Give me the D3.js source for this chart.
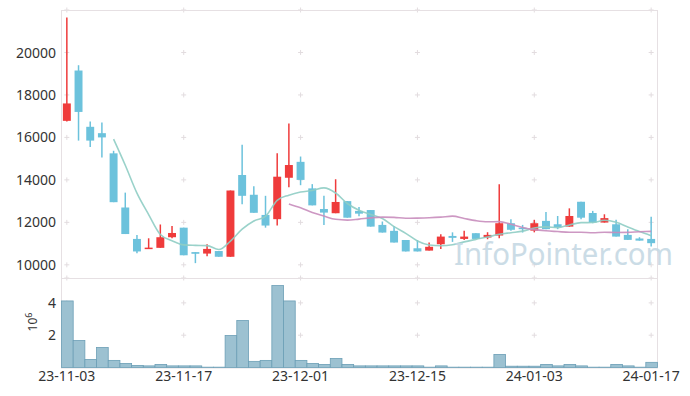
<!DOCTYPE html>
<html lang="ko">
<head>
<meta charset="utf-8">
<style type="text/css">
    body { margin: 0; background: #fff; }
    svg { display: block; font-family: "Noto Sans", sans-serif; }
    .frame { fill: none; stroke: #e6e0e3; stroke-width: 1px; }
    .cross { stroke: #e2dcdf; stroke-width: 1px; }
    .tick-label { fill: #333; font-size: 14px; }
</style>
</head>
<body>
<svg width="690" height="396"></svg>
<script src="https://d3js.org/d3.v7.min.js"></script>
<script type="text/javascript">
    // trading days
    var dates = ["23-11-03","23-11-06","23-11-07","23-11-08","23-11-09","23-11-10",
        "23-11-13","23-11-14","23-11-15","23-11-16","23-11-17",
        "23-11-20","23-11-21","23-11-22","23-11-23","23-11-24",
        "23-11-27","23-11-28","23-11-29","23-11-30","23-12-01",
        "23-12-04","23-12-05","23-12-06","23-12-07","23-12-08",
        "23-12-11","23-12-12","23-12-13","23-12-14","23-12-15",
        "23-12-18","23-12-19","23-12-20","23-12-21","23-12-22",
        "23-12-26","23-12-27","23-12-28","24-01-02","24-01-03",
        "24-01-04","24-01-05","24-01-08","24-01-09","24-01-10",
        "24-01-11","24-01-12","24-01-15","24-01-16","24-01-17"];

    var open  = [16780,19150,16500,16200,15250,12700,11220,10750,10800,11300,11750,
        10600,10530,10650,10380,14230,13300,12350,12150,14100,14850,
        13600,12630,12430,13000,12540,12580,11880,11600,11170,10780,
        10670,10970,11360,11220,11490,11285,11380,11960,11750,11610,
        12070,11910,11800,12970,12440,11990,11910,11410,11240,11220];
    var high  = [21650,19400,16750,16700,15370,13400,11400,11250,11900,11830,11750,
        10600,10970,10650,13500,15650,13700,13250,15250,16650,15100,
        13800,13250,14030,13000,12720,12580,12040,11830,11170,11170,
        11050,11440,11530,11600,11490,11535,13800,12150,11880,12120,
        12490,12300,12660,12970,12540,12380,12120,11680,11300,12270];
    var low   = [16750,15850,15550,15050,12950,11450,10550,10750,10800,11250,10450,
        10080,10400,10380,10380,12850,12450,11750,11850,13650,13750,
        12800,11880,12430,12220,12290,11800,11520,11050,10630,10630,
        10670,10750,11080,11175,11220,11206,11250,11600,11520,11530,
        11680,11680,11800,12150,11960,11990,11330,11175,11140,10860];
    var close = [17600,17200,15850,16000,12950,11450,10630,10810,11300,11500,10450,
        10520,10750,10380,13500,13250,12450,11850,14150,14700,14000,
        12800,12460,12960,12220,12410,11800,11520,11050,10630,10630,
        10850,11330,11270,11330,11220,11410,11960,11650,11690,11960,
        11680,11770,12300,12220,11990,12200,11330,11175,11140,11020];
    var volume = [4120000,1670000,500000,1240000,440000,250000,130000,100000,190000,100000,100000,
        100000,20000,20000,1980000,2910000,380000,440000,5070000,4120000,440000,
        250000,190000,560000,190000,100000,100000,100000,100000,100000,100000,
        20000,100000,20000,20000,20000,20000,810000,80000,80000,80000,
        190000,100000,190000,100000,20000,20000,190000,100000,20000,320000];

    var priceTicks = [10000, 12000, 14000, 16000, 18000, 20000];
    var volTicks = [2000000, 4000000];
    var maPeriods = [5, 20];
    var maColors = ["#8fcdc4", "#c88dbd"];

    var svg = d3.select("svg");
    var plotLeft = 61, plotRight = 657, plotTop = 10, plotMid = 278, plotBottom = 367.5;

    var x = d3.scaleBand().domain(d3.range(dates.length)).range([plotLeft, plotRight]).padding(0);
    var xc = function (i) { return x(i) + x.bandwidth() / 2; };
    var y = d3.scaleLinear().domain([9380, 22000]).range([plotMid, plotTop]);
    var yv = d3.scaleLinear().domain([0, 5540000]).range([plotBottom, plotMid]);

    var xTickIdx = d3.range(0, dates.length, 10);

    // grid crosses
    var crossG = svg.append("g");
    function crosses(ys) {
        xTickIdx.forEach(function (i) {
            ys.forEach(function (yy) {
                crossG.append("line").attr("class", "cross")
                    .attr("x1", xc(i) - 2.5).attr("x2", xc(i) + 2.5).attr("y1", yy).attr("y2", yy);
                crossG.append("line").attr("class", "cross")
                    .attr("x1", xc(i)).attr("x2", xc(i)).attr("y1", yy - 2.5).attr("y2", yy + 2.5);
            });
        });
    }
    crosses(priceTicks.concat([22000]).map(y));
    crosses(volTicks.map(yv).concat([plotMid]));

    // frames
    svg.append("rect").attr("class", "frame")
        .attr("x", plotLeft + 0.5).attr("y", plotTop + 0.5)
        .attr("width", plotRight - plotLeft).attr("height", plotMid - plotTop);
    svg.append("rect").attr("class", "frame")
        .attr("x", plotLeft + 0.5).attr("y", plotMid + 0.5)
        .attr("width", plotRight - plotLeft).attr("height", plotBottom - plotMid);

    // candles
    var candles = svg.append("g").selectAll("g")
        .data(d3.range(dates.length))
        .enter().append("g");
    var col = function (i) { return close[i] >= open[i] ? "#ef3b3b" : "#6cc2dc"; };
    candles.append("line")
        .attr("x1", xc).attr("x2", xc)
        .attr("y1", function (i) { return y(high[i]); })
        .attr("y2", function (i) { return y(low[i]); })
        .attr("stroke", col).attr("stroke-width", 1.5);
    var bw = x.bandwidth() * 0.68;
    candles.append("rect")
        .attr("x", function (i) { return xc(i) - bw / 2; })
        .attr("width", bw)
        .attr("y", function (i) { return y(Math.max(open[i], close[i])); })
        .attr("height", function (i) { return Math.max(1.5, Math.abs(y(open[i]) - y(close[i]))); })
        .attr("fill", col);

    // moving averages from closes
    maPeriods.forEach(function (n, k) {
        var pts = d3.range(n - 1, dates.length).map(function (i) {
            return [xc(i), y(d3.mean(close.slice(i - n + 1, i + 1)))];
        });
        svg.append("path")
            .attr("d", d3.line().curve(d3.curveMonotoneX)(pts))
            .attr("fill", "none")
            .attr("stroke", maColors[k])
            .attr("stroke-width", 1.6)
            .attr("opacity", 0.9);
    });

    // volume bars
    svg.append("g").selectAll("rect")
        .data(d3.range(dates.length))
        .enter().append("rect")
        .attr("x", function (i) { return x(i) + 0.5; })
        .attr("width", x.bandwidth())
        .attr("y", function (i) { return yv(volume[i]); })
        .attr("height", function (i) { return plotBottom - yv(volume[i]); })
        .attr("fill", "#9cc1d1")
        .attr("stroke", "#6c9fb6")
        .attr("stroke-width", 0.8);

    // watermark
    svg.append("text")
        .attr("x", 454).attr("y", 265)
        .attr("textLength", 219)
        .attr("lengthAdjust", "spacingAndGlyphs")
        .style("font-size", "31px")
        .style("fill", "#c6d9e4")
        .style("opacity", 0.9)
        .text("InfoPointer.com");

    // axis labels
    svg.append("g").selectAll("text")
        .data(priceTicks).enter().append("text")
        .attr("class", "tick-label")
        .attr("x", 56).attr("y", function (d) { return y(d); })
        .attr("dy", "0.36em")
        .attr("text-anchor", "end")
        .text(function (d) { return d; });

    svg.append("g").selectAll("text")
        .data(volTicks).enter().append("text")
        .attr("class", "tick-label")
        .attr("x", 56).attr("y", function (d) { return yv(d); })
        .attr("dy", "0.36em")
        .attr("text-anchor", "end")
        .text(function (d) { return d / 1e6; });

    svg.append("g").selectAll("text")
        .data(xTickIdx).enter().append("text")
        .attr("class", "tick-label")
        .attr("x", xc).attr("y", 381)
        .attr("text-anchor", "middle")
        .text(function (i) { return dates[i]; });

    var unit = svg.append("text")
        .attr("transform", "translate(37,322) rotate(-90)")
        .attr("text-anchor", "middle")
        .style("fill", "#333")
        .style("font-size", "12px");
    unit.append("tspan").text("10");
    unit.append("tspan").attr("dy", -5).style("font-size", "9px").text("6");
</script>
</body>
</html>
